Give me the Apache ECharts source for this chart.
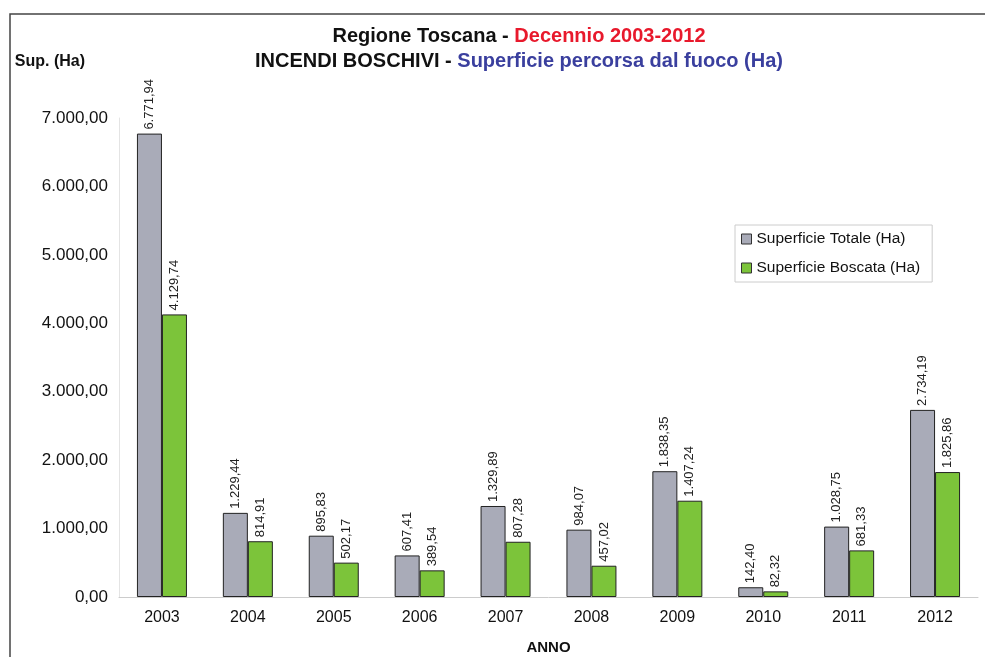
<!DOCTYPE html>
<html>
<head>
<meta charset="utf-8">
<script src="https://cdn.jsdelivr.net/npm/echarts@6/dist/echarts.min.js"></script>
<style>
  html, body { margin: 0; padding: 0; background: #fff; }
  #chart { width: 985px; height: 657px; }
</style>
</head>
<body>
<div id="chart"></div>
<script>
// anni
var anni = ['2003', '2004', '2005', '2006', '2007', '2008', '2009', '2010', '2011', '2012'];
// superficie totale (Ha)
var supTotale = [6771.94, 1229.44, 895.83, 607.41, 1329.89, 984.07, 1838.35, 142.40, 1028.75, 2734.19];
// superficie boscata (Ha)
var supBoscata = [4129.74, 814.91, 502.17, 389.54, 807.28, 457.02, 1407.24, 82.32, 681.33, 1825.86];
var serieNomi = ['Superficie Totale (Ha)', 'Superficie Boscata (Ha)'];

// formato italiano 1.234,56
function fmt(v) {
    var parts = Number(v).toFixed(2).split('.');
    var intero = parts[0].replace(/\B(?=(\d{3})+(?!\d))/g, '.');
    return intero + ',' + parts[1];
}

var FONT = 'Liberation Sans, Arial, sans-serif';
var myChart = echarts.init(document.getElementById('chart'));

var labelCfg = {
    show: true,
    position: 'top',
    rotate: 90,
    align: 'left',
    verticalAlign: 'middle',
    distance: 4,
    fontSize: 13,
    fontFamily: FONT,
    color: '#222',
    formatter: function (p) { return fmt(p.value); }
};

myChart.setOption({
    animation: false,
    backgroundColor: '#fff',
    color: ['#a9abb8', '#7cc43a'],
    graphic: [{
        type: 'rect',
        shape: { x: 10, y: 14, width: 1000, height: 700 },
        style: { fill: 'none', stroke: '#444', lineWidth: 1.5 },
        silent: true
    }],
    title: {
        left: 514,
        textAlign: 'center',
        top: 19,
        text: '{b|Regione Toscana - }{r|Decennio 2003-2012}\n{b|INCENDI BOSCHIVI - }{u|Superficie percorsa dal fuoco (Ha)}',
        textStyle: {
            lineHeight: 25,
            rich: {
                b: { fontSize: 20, fontWeight: 'bold', color: '#111', fontFamily: FONT, lineHeight: 25 },
                r: { fontSize: 20, fontWeight: 'bold', color: '#e8192c', fontFamily: FONT, lineHeight: 25 },
                u: { fontSize: 20, fontWeight: 'bold', color: '#3a3f9e', fontFamily: FONT, lineHeight: 25 }
            }
        }
    },
    legend: {
        data: serieNomi,
        orient: 'vertical',
        left: 735,
        top: 225,
        itemWidth: 10,
        itemHeight: 10,
        itemGap: 13,
        padding: [6, 12, 6, 6],
        borderColor: '#ccc',
        borderWidth: 1,
        icon: 'rect',
        itemStyle: { borderColor: '#333', borderWidth: 1 },
        textStyle: { fontSize: 15.5, fontFamily: FONT, color: '#111' }
    },
    grid: {
        left: 119,
        right: 7,
        top: 118,
        bottom: 60,
        outerBoundsMode: 'none',
        containLabel: false
    },
    xAxis: {
        type: 'category',
        data: anni,
        name: 'ANNO',
        nameLocation: 'middle',
        nameGap: 43,
        nameTextStyle: { fontSize: 15, fontWeight: 'bold', fontFamily: FONT, color: '#111' },
        axisLine: { lineStyle: { color: '#ccc' } },
        axisTick: { show: false },
        axisLabel: { fontSize: 16, fontFamily: FONT, color: '#111', margin: 13 }
    },
    yAxis: {
        type: 'value',
        min: 0,
        max: 7000,
        interval: 1000,
        name: 'Sup. (Ha)',
        nameLocation: 'end',
        nameGap: 48,
        nameTextStyle: { fontSize: 16, fontWeight: 'bold', fontFamily: FONT, color: '#111', align: 'right', padding: [0, 34, 0, 0] },
        axisLine: { show: true, lineStyle: { color: '#e4e4e4' } },
        axisTick: { show: false },
        splitLine: { show: false },
        axisLabel: {
            fontSize: 17, fontFamily: FONT, color: '#111', margin: 11,
            formatter: function (v) { return fmt(v); }
        }
    },
    series: [
        {
            name: serieNomi[0],
            type: 'bar',
            data: supTotale,
            barWidth: 25,
            barGap: '0%',
            itemStyle: { borderColor: '#222', borderWidth: 1 },
            label: labelCfg
        },
        {
            name: serieNomi[1],
            type: 'bar',
            data: supBoscata,
            barWidth: 25,
            itemStyle: { borderColor: '#222', borderWidth: 1 },
            label: labelCfg
        }
    ]
});
</script>
</body>
</html>
